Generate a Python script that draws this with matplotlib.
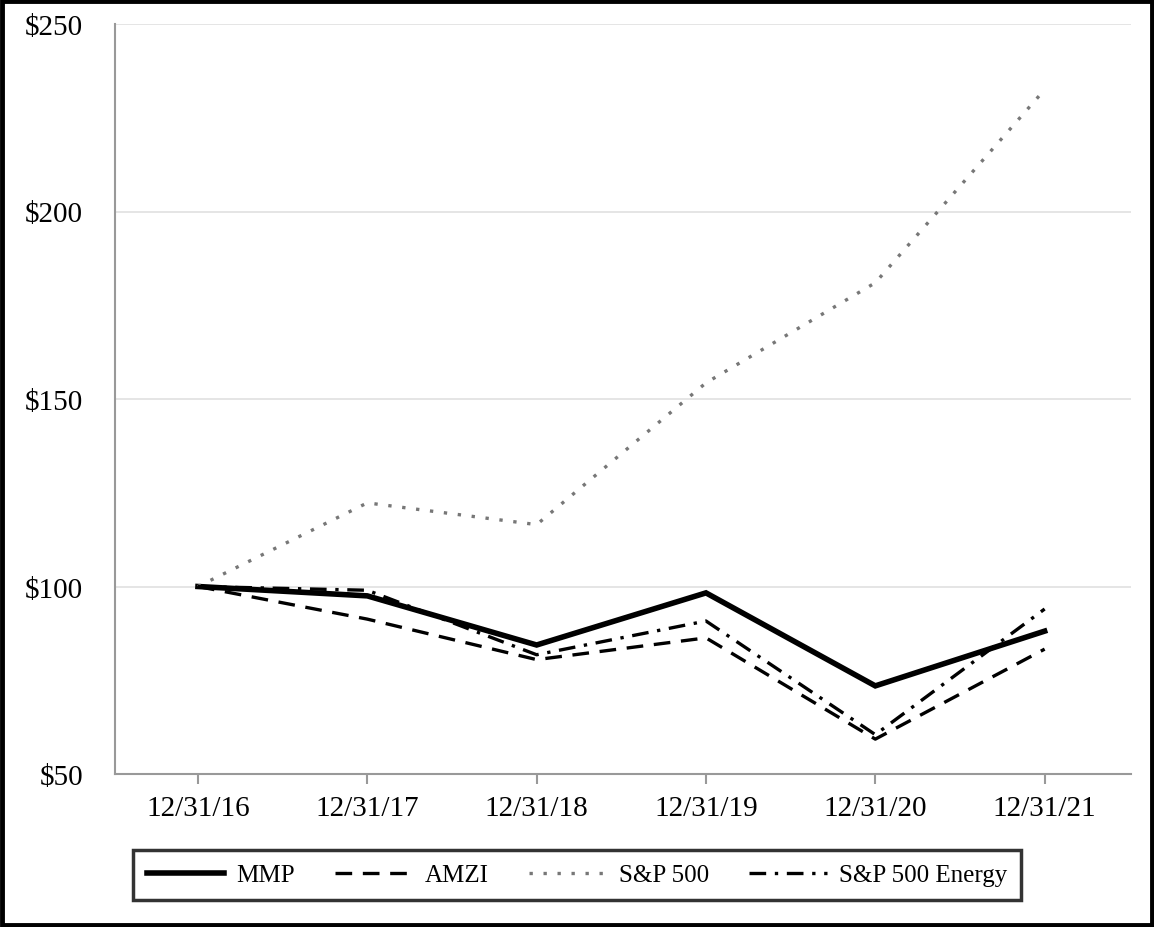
import matplotlib
matplotlib.use("Agg")
import matplotlib.pyplot as plt
from matplotlib.patches import Rectangle

dates = ["12/31/16", "12/31/17", "12/31/18", "12/31/19", "12/31/20", "12/31/21"]
mmp = [100, 97.5, 84.4, 98.3, 73.5, 88.1]
amzi = [100, 91.3, 80.5, 86.3, 59.3, 83.3]
sp500 = [100, 122.3, 116.5, 154.3, 181.0, 232.5]
sp500_energy = [100, 99.0, 81.8, 90.8, 60.5, 94.0]
yticks = [50, 100, 150, 200, 250]

plt.rcParams['font.family'] = ['Liberation Serif', 'DejaVu Serif']

fig = plt.figure(figsize=(11.54, 9.28), dpi=100)
ax = fig.add_axes([115/1154, 1-775/928, (1131-115)/1154, (775-25)/928])

x = list(range(len(dates)))
l1, = ax.plot(x, mmp, color='black', lw=4.0, solid_joinstyle='miter', label='MMP')
l2, = ax.plot(x, amzi, color='black', lw=2.4, dashes=(5, 3.2), label='AMZI')
l3, = ax.plot(x, sp500, color='#777777', lw=2.4, dashes=(1, 3.2), label='S&P 500')
l4, = ax.plot(x, sp500_energy, color='black', lw=2.4, dashes=(5, 2.6, 1, 2.6), label='S&P 500 Energy')

ax.set_xlim(-0.49, 5.51)
ax.set_ylim(50, 250)
ax.set_yticks(yticks)
ax.set_yticklabels([f"${v}" for v in yticks])
ax.set_xticks(x)
ax.set_xticklabels(dates)
ax.grid(axis='y', color='#e0e0e0', lw=1.2)
ax.set_axisbelow(True)
for s in ['top', 'right']:
    ax.spines[s].set_visible(False)
for s in ['left', 'bottom']:
    ax.spines[s].set_color('#999999')
    ax.spines[s].set_linewidth(1.5)
ax.tick_params(axis='y', length=0, pad=23, labelsize=21)
ax.tick_params(axis='x', length=7, width=1.5, color='#999999', pad=8, labelsize=21)

leg = fig.legend(handles=[l1, l2, l3, l4], loc='center',
                 bbox_to_anchor=(0.5, 1-876/928),
                 ncol=4, fontsize=18, frameon=True, fancybox=False,
                 edgecolor='black', borderaxespad=0, handlelength=3.1,
                 handletextpad=0.5, borderpad=0.55, columnspacing=1.6)
leg.get_frame().set_linewidth(2.5)

fig.patches.append(Rectangle((0.0015, 0.002), 0.997, 0.996, transform=fig.transFigure,
                             fill=False, edgecolor='black', lw=3.5))

fig.savefig("out.png", dpi=100)
